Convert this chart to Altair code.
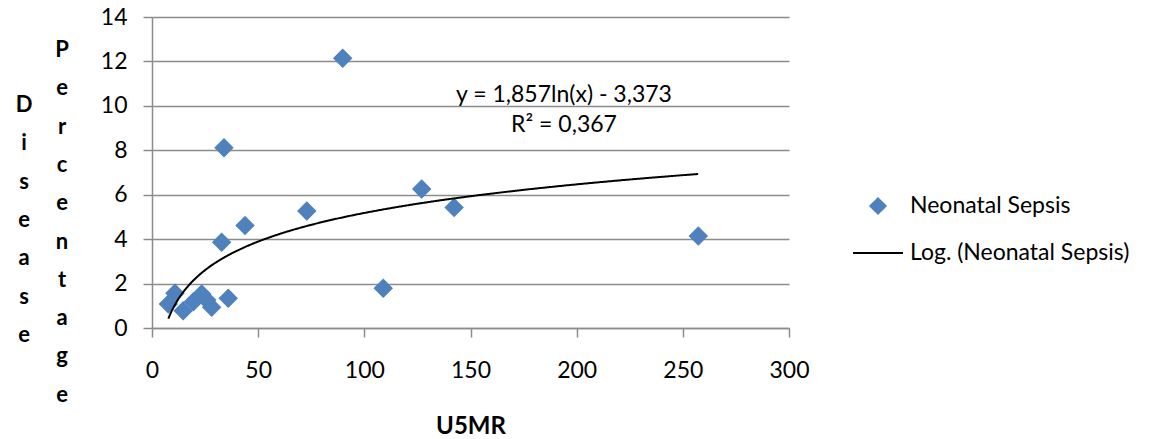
import altair as alt
import pandas as pd

# U5MR vs. neonatal sepsis share (%)
u5mr = [89.8, 33.9, 32.8, 43.8, 72.9, 127.0, 142.3, 108.9, 257.3,
        10.8, 7.7, 14.7, 19.5, 23.4, 25.8, 28.1, 35.9]
sepsis_pct = [12.14, 8.11, 3.86, 4.61, 5.27, 6.26, 5.42, 1.79, 4.14,
              1.56, 1.08, 0.78, 1.18, 1.53, 1.26, 0.93, 1.34]

# logarithmic trend: y = a*ln(x) + b
coef_a = 1.857
coef_b = -3.373
r_squared = "0,367"
equation_lines = ["y = 1,857ln(x) - 3,373", "R² = " + r_squared]

x_ticks = [0, 50, 100, 150, 200, 250, 300]
y_ticks = [0, 2, 4, 6, 8, 10, 12, 14]

FONT = "Lato"
BLUE = "#4F81BD"
GRID = "#8C8C8C"
W, H = 637, 311

df = pd.DataFrame({"U5MR": u5mr, "pct": sepsis_pct})

x_scale = alt.Scale(domain=[0, 300], nice=False)
y_scale = alt.Scale(domain=[0, 14], nice=False)

points = alt.Chart(df).mark_point(
    shape="diamond", filled=True, size=380, color=BLUE, opacity=1
).encode(
    x=alt.X("U5MR:Q", scale=x_scale,
            axis=alt.Axis(values=x_ticks, grid=False, title="U5MR",
                          titleFontSize=24, titleFontWeight="bold",
                          titlePadding=32, labelPadding=22, labelFlush=False)),
    y=alt.Y("pct:Q", scale=y_scale,
            axis=alt.Axis(values=y_ticks, grid=True, title=None,
                          labelPadding=16, labelFlush=False)),
)

trend = alt.Chart(alt.sequence(min(u5mr), max(u5mr) + 0.01, 0.5, as_="U5MR")).transform_calculate(
    fit=f"{coef_a}*log(datum.U5MR) + ({coef_b})"
).mark_line(color="black", strokeWidth=2).encode(
    x=alt.X("U5MR:Q", scale=x_scale),
    y=alt.Y("fit:Q", scale=y_scale),
)

one = alt.Data(values=[{"k": 0}])

eq_text = alt.Chart(one).mark_text(
    font=FONT, fontSize=23, align="center", baseline="middle", lineHeight=30, color="black"
).encode(x=alt.value(412), y=alt.value(78), text=alt.value(equation_lines))

# stacked-letter axis titles (first letter placed at y)
title_pct = alt.Chart(one).mark_text(
    font=FONT, fontSize=22, fontWeight="bold", align="center", baseline="middle",
    lineHeight=38.3, color="black"
).encode(x=alt.value(-90), y=alt.value(33), text=alt.value(list("Percentage")))

title_dis = alt.Chart(one).mark_text(
    font=FONT, fontSize=22, fontWeight="bold", align="center", baseline="middle",
    lineHeight=38.3, color="black"
).encode(x=alt.value(-128), y=alt.value(88), text=alt.value(list("Disease")))

# legend
leg_symbol = alt.Chart(one).mark_point(
    shape="diamond", filled=True, size=330, color=BLUE, opacity=1
).encode(x=alt.value(726), y=alt.value(189))
leg_line = alt.Chart(one).mark_rule(color="black", strokeWidth=2).encode(
    x=alt.value(701), x2=alt.value(751), y=alt.value(236)
)
leg_text1 = alt.Chart(one).mark_text(
    font=FONT, fontSize=23, align="left", baseline="middle", color="black"
).encode(x=alt.value(758), y=alt.value(189), text=alt.value("Neonatal Sepsis"))
leg_text2 = alt.Chart(one).mark_text(
    font=FONT, fontSize=23, align="left", baseline="middle", color="black"
).encode(x=alt.value(758), y=alt.value(236), text=alt.value("Log. (Neonatal Sepsis)"))

chart = alt.layer(
    points, trend, eq_text, title_pct, title_dis,
    leg_symbol, leg_line, leg_text1, leg_text2
).properties(
    width=W, height=H,
    autosize=alt.AutoSizeParams(type="none"),
    padding={"left": 152, "top": 17, "right": 1151 - 152 - W, "bottom": 439 - 17 - H},
    background="white",
).configure_view(stroke=None).configure_axis(
    labelFont=FONT, labelFontSize=23, labelColor="black",
    titleFont=FONT, titleColor="black",
    domainColor=GRID, domainWidth=1.5, tickColor=GRID, tickWidth=1.5, tickSize=9,
    gridColor=GRID, gridWidth=1.5,
)

chart.save("out.html", embed_options={"renderer": "svg", "actions": False})
